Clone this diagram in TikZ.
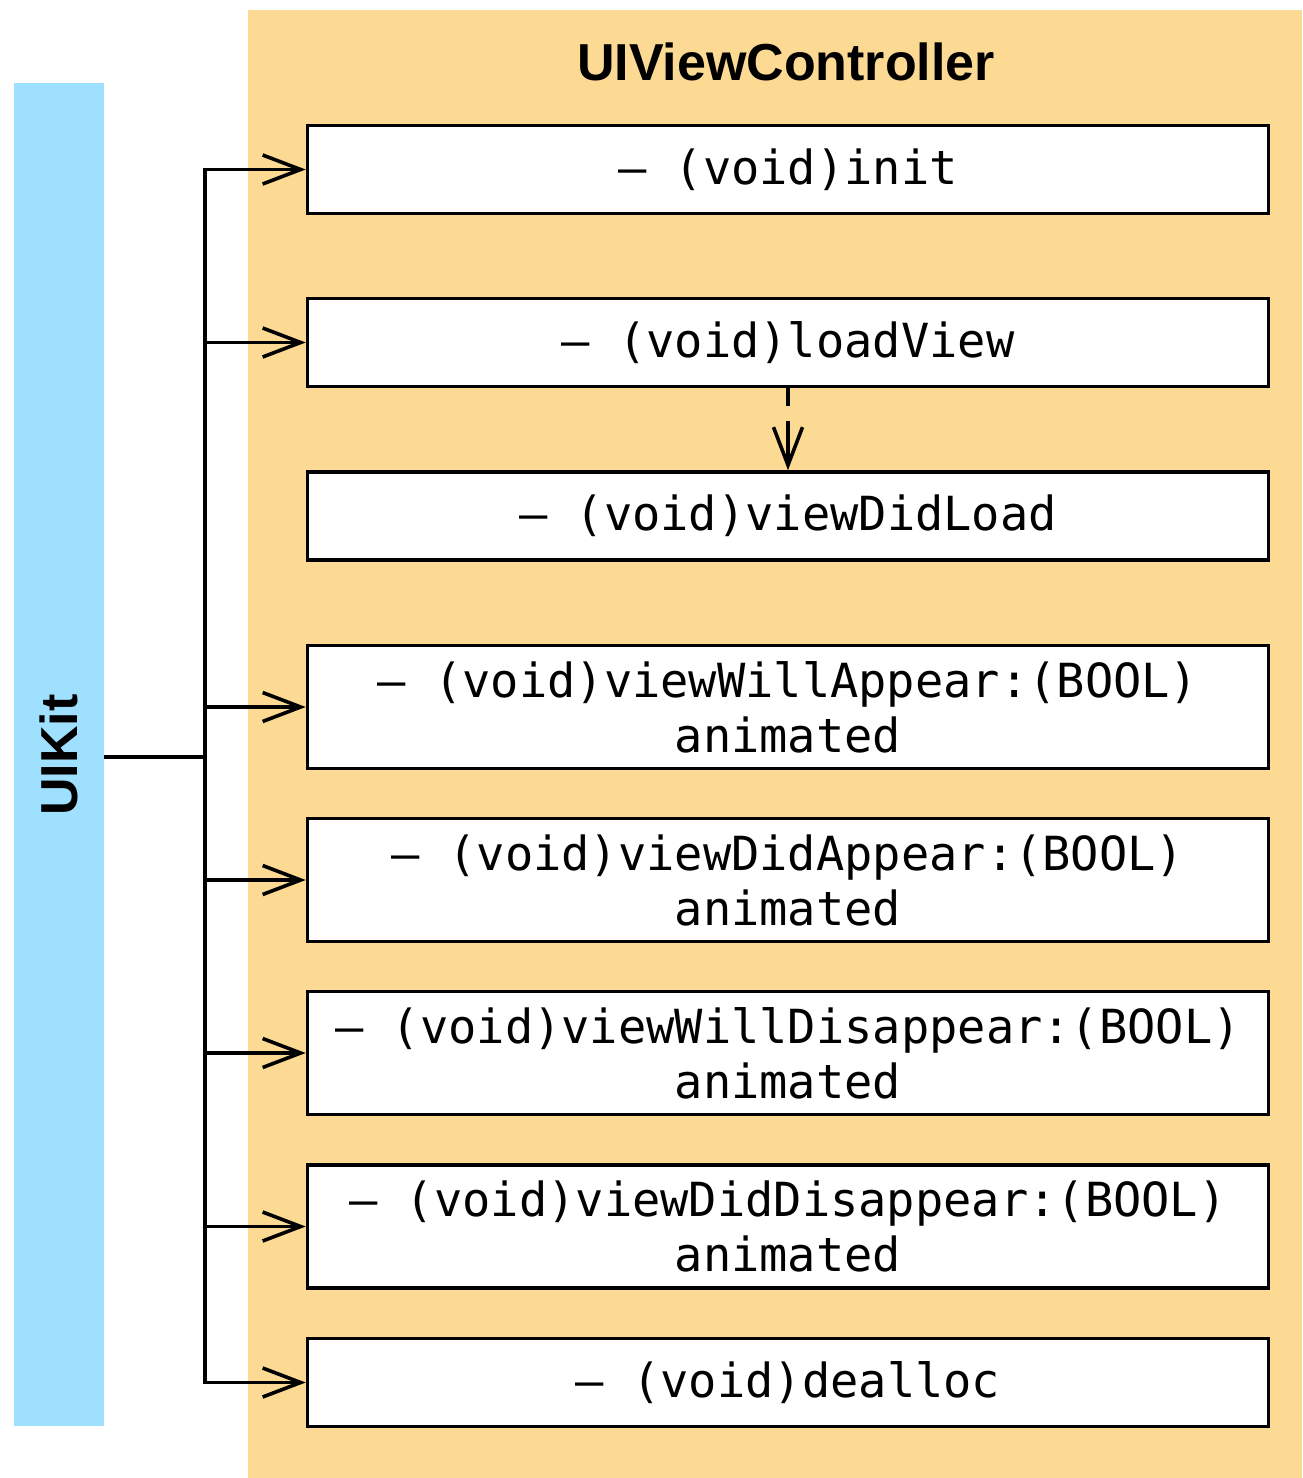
\documentclass[tikz,border=0pt]{standalone}
\usepackage{fontspec}
\newfontfamily\monofnt{DejaVu Sans Mono}
\newfontfamily\headfnt{Liberation Sans}
\usetikzlibrary{arrows.meta}
\definecolor{vcbg}{RGB}{253,218,148}
\definecolor{kitbg}{RGB}{160,224,255}
\tikzset{
  method/.style={draw=black, line width=3.6pt, fill=white, minimum width=961pt,
    inner sep=0pt, align=center, font=\monofnt\fontsize{47}{55}\selectfont},
  onebox/.style={method, minimum height=88pt},
  twobox/.style={method, minimum height=123pt},
  flow/.style={line width=3.6pt, -{Straight Barb[length=38pt,width=29pt]}},
  bus/.style={line width=3.6pt},
}
\begin{document}
\begin{tikzpicture}[x=1pt,y=-1pt]
\useasboundingbox (0,0) rectangle (1302,1478);
% containers
\node[fill=vcbg, minimum width=1054pt, minimum height=1468pt, inner sep=0pt, anchor=north west] (vc) at (248,10) {};
\node[fill=kitbg, minimum width=90pt, minimum height=1343pt, inner sep=0pt, anchor=north west] (kit) at (14,83) {};
\node[rotate=90, font=\headfnt\bfseries\fontsize{52}{60}\selectfont] (kitlabel) at (59,755) {UIKit};
\node[font=\headfnt\bfseries\fontsize{52}{60}\selectfont] (vclabel) at (786,62) {UIViewController};
% methods
\node[onebox] (init) at (788,169.5) {– (void)init};
\node[onebox] (load) at (788,342.5) {– (void)loadView};
\node[onebox] (didload) at (788,516) {– (void)viewDidLoad};
\node[twobox] (willapp) at (788,707) {– (void)viewWillAppear:(BOOL)\\animated};
\node[twobox] (didapp) at (788,880) {– (void)viewDidAppear:(BOOL)\\animated};
\node[twobox] (willdis) at (788,1053) {– (void)viewWillDisappear:(BOOL)\\animated};
\node[twobox] (diddis) at (788,1226.5) {– (void)viewDidDisappear:(BOOL)\\animated};
\node[onebox] (dealloc) at (788,1382.5) {– (void)dealloc};
% connectors
\coordinate (hub) at (205,757);
\draw[bus] (kit.east |- hub) -- (hub);
\draw[bus, line cap=rect] (hub |- init.west) -- (hub |- dealloc.west);
\foreach \m in {init,load,willapp,didapp,willdis,diddis,dealloc}
  \draw[flow] (hub |- \m.west) -- (\m.west);
\draw[line width=3.6pt, dash pattern=on 18pt off 15pt on 60pt off 0pt, -{Straight Barb[length=38pt,width=29pt]}] (load.south) -- (didload.north);
\end{tikzpicture}
\end{document}
